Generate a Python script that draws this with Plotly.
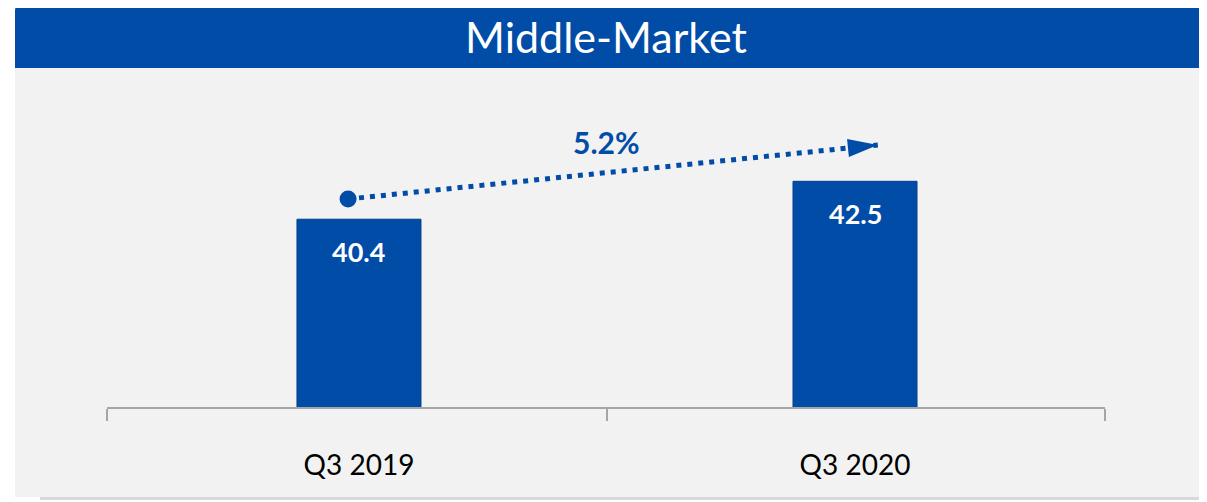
import math
import plotly.graph_objects as go

# ---- data ----
categories = ["Q3 2019", "Q3 2020"]
values = [40.4, 42.5]
value_labels = ["40.4", "42.5"]
growth_label = ["5.2%"]
title_text = "Middle-Market"
# trend arrow endpoints (category position, value)
arrow_x = [-0.022, 1.046]
arrow_y = [41.52, 44.51]
growth_pos = [0.5, 44.66]

# ---- style / layout constants ----
OFF = 8  # page body margin
WIN_W, WIN_H = 1207, 502
W, H = WIN_W - OFF, WIN_H - OFF
# plot area in window pixels
PX0, PX1, PY0, PY1 = 107, 1105, 82, 407
ML, MR, MT, MB = PX0 - OFF, WIN_W - PX1, PY0 - OFF, WIN_H - PY1
BLUE = "#004CA6"
PANEL = "#F2F2F2"
FONT = "Lato"
Y_RANGE = [30, 48]
X_RANGE = [-0.508, 1.504]
SEP_TICKS = [X_RANGE[0], 0.5, X_RANGE[1]]

PW = PX1 - PX0
PH = PY1 - PY0


def px(X):
    return (X - PX0) / PW


def py(Y):
    return (PY1 - Y) / PH


fig = go.Figure()

fig.add_trace(go.Bar(
    x=[0, 1], y=values,
    width=0.25,
    marker=dict(color=BLUE, line=dict(color="#003E8C", width=1)),
    hoverinfo="skip",
    showlegend=False,
))

# dotted trend line with starting dot
fig.add_trace(go.Scatter(
    x=arrow_x, y=arrow_y, mode="lines",
    line=dict(color=BLUE, width=5, dash="5px,6px"),
    hoverinfo="skip", showlegend=False,
))
fig.add_trace(go.Scatter(
    x=[arrow_x[0]], y=[arrow_y[0]], mode="markers",
    marker=dict(color=BLUE, size=17, symbol="circle"),
    hoverinfo="skip", showlegend=False,
))

# arrowhead as pixel-sized path anchored at the line end
ang = math.radians(5.8)
L_head, half_w = 30, 9
ux, uy = math.cos(ang), math.sin(ang)
nx, ny = -uy, ux
bx, by = -L_head * ux, -L_head * uy
p1 = (bx + half_w * nx, by + half_w * ny)
p2 = (bx - half_w * nx, by - half_w * ny)
head_path = f"M0,0 L{p1[0]:.2f},{p1[1]:.2f} L{p2[0]:.2f},{p2[1]:.2f} Z"

shapes = [
    # panel background
    dict(type="rect", xref="paper", yref="paper", layer="below",
         x0=px(15), x1=px(1200), y0=py(497), y1=py(5),
         fillcolor=PANEL, line=dict(width=0)),
    # bottom shadow
    dict(type="rect", xref="paper", yref="paper", layer="below",
         x0=px(40), x1=px(1200), y0=py(500), y1=py(497),
         fillcolor="#D9D9D9", line=dict(width=0)),
    # title bar with rounded top corners
    dict(type="path", xref="paper", yref="paper", layer="below",
         path=(f"M{px(15)},{py(68)} L{px(15)},{py(11)} "
               f"Q{px(15)},{py(4)} {px(22)},{py(4)} "
               f"L{px(1193)},{py(4)} Q{px(1200)},{py(4)} {px(1200)},{py(11)} "
               f"L{px(1200)},{py(68)} Z"),
         fillcolor=BLUE, line=dict(width=0)),
    # arrowhead
    dict(type="path", xref="x", yref="y", xsizemode="pixel", ysizemode="pixel",
         xanchor=arrow_x[1], yanchor=arrow_y[1], path=head_path,
         fillcolor=BLUE, line=dict(width=0)),
]

annotations = []
for xi, v, t in zip([0, 1], values, value_labels):
    annotations.append(dict(
        x=xi, y=v, text=f"<b>{t}</b>", showarrow=False, yshift=-32,
        font=dict(family=FONT, size=27, color="white"),
        xanchor="center", yanchor="middle",
    ))
annotations.append(dict(
    x=growth_pos[0], y=growth_pos[1], text=f"<b>{growth_label[0]}</b>",
    showarrow=False, font=dict(family=FONT, size=30, color=BLUE),
    xanchor="center", yanchor="middle",
))

fig.update_layout(
    width=W, height=H,
    margin=dict(l=ML, r=MR, t=MT, b=MB, pad=0),
    paper_bgcolor="white",
    plot_bgcolor="rgba(0,0,0,0)",
    title=dict(text=title_text, x=0.5, xref="paper", xanchor="center",
               y=1 - (38 - OFF) / H, yanchor="middle",
               font=dict(family=FONT, size=43, color="white")),
    shapes=shapes,
    annotations=annotations,
    xaxis=dict(
        range=X_RANGE, tickvals=[0, 1], ticktext=categories,
        showgrid=False, zeroline=False,
        showline=True, linecolor="#A6A6A6", linewidth=2,
        ticks="", ticklabelstandoff=32,
        tickfont=dict(family=FONT, size=28, color="black"),
        minor=dict(tickvals=SEP_TICKS, ticks="outside", ticklen=12,
                   tickwidth=2, tickcolor="#A6A6A6", showgrid=False),
        fixedrange=True,
    ),
    yaxis=dict(range=Y_RANGE, visible=False, fixedrange=True),
    bargap=0.75,
)

fig.write_html("out.html")
